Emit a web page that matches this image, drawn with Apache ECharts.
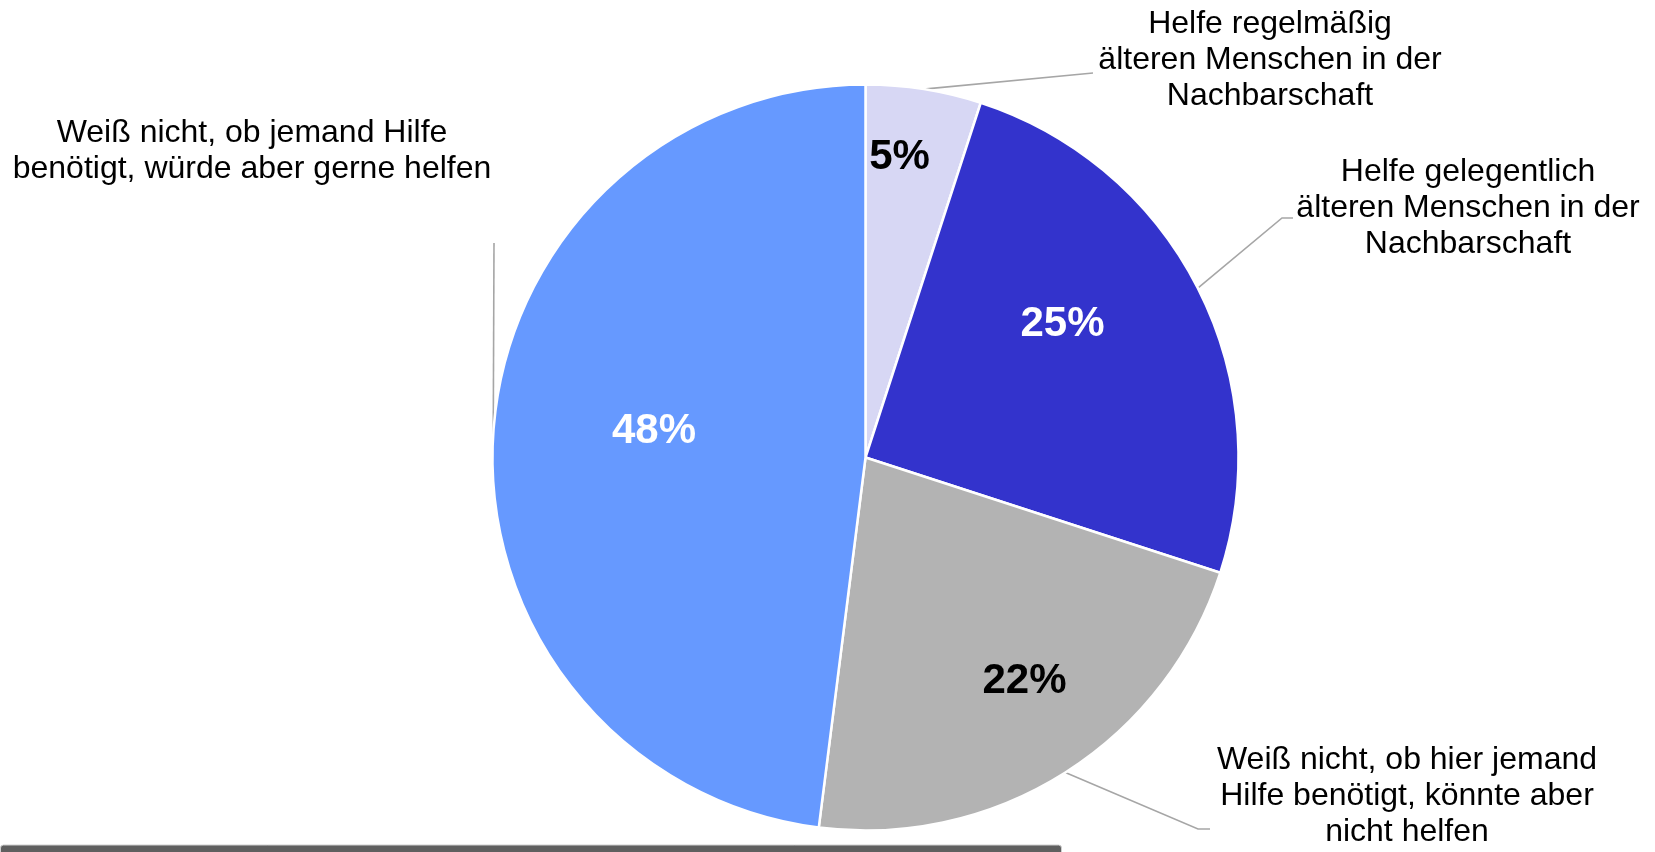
<!DOCTYPE html>
<html>
<head>
<meta charset="utf-8">
<script src="https://cdn.jsdelivr.net/npm/echarts@6/dist/echarts.min.js"></script>
<style>
  html, body { margin: 0; padding: 0; background: #ffffff; }
  #chart { width: 1655px; height: 852px; }
</style>
</head>
<body>
<div id="chart"></div>
<script>
// ---- data ----
const categories = [
  'Helfe regelmäßig\nälteren Menschen in der\nNachbarschaft',
  'Helfe gelegentlich\nälteren Menschen in der\nNachbarschaft',
  'Weiß nicht, ob hier jemand\nHilfe benötigt, könnte aber\nnicht helfen',
  'Weiß nicht, ob jemand Hilfe\nbenötigt, würde aber gerne helfen'
];
const values = [5, 25, 22, 48];

// ---- styles / layout (not data) ----
const sliceColors = ['#D7D7F4', '#3333CC', '#B3B3B3', '#6699FF'];
const innerLabelColors = ['#000000', '#FFFFFF', '#000000', '#FFFFFF'];
const FONT = 'Arial, "Liberation Sans", Helvetica, sans-serif';
const CENTER = [865.5, 457.5];
const RADIUS = 373;

// inner percentage label centres
const innerLabelPos = [
  [899.5, 157.5], [1062.5, 324.5], [1024.5, 681], [654, 431]
];
// outer category label centres + leader-line bend/end points
const outerLabelPos = [
  { x: 1270, y: 60.5, line: [[1093, 73]] },
  { x: 1468, y: 208.5, line: [[1282, 218], [1293, 218]] },
  { x: 1407, y: 796.5, line: [[1198, 829], [1210, 829]] },
  { x: 252,  y: 151.5, line: [[494, 243]] }
];

const pieData = categories.map((c, i) => ({
  name: c,
  value: values[i],
  itemStyle: { color: sliceColors[i] }
}));

const chart = echarts.init(document.getElementById('chart'), null, { renderer: 'canvas' });

chart.setOption({
  animation: false,
  backgroundColor: '#ffffff',
  series: [
    {
      type: 'pie',
      center: CENTER,
      radius: RADIUS,
      startAngle: 90,
      clockwise: true,
      avoidLabelOverlap: false,
      itemStyle: { borderColor: '#ffffff', borderWidth: 2.5 },
      label: {
        show: true,
        position: 'inside',
        formatter: p => p.value + '%',
        fontFamily: FONT,
        fontWeight: 'bold',
        fontSize: 42
      },
      labelLayout: function (params) {
        const pos = innerLabelPos[params.dataIndex];
        return { x: pos[0], y: pos[1], align: 'center', verticalAlign: 'middle' };
      },
      data: pieData.map((d, i) => Object.assign({}, d, {
        label: { color: innerLabelColors[i] }
      })),
      emphasis: { disabled: true },
      silent: true
    },
    {
      type: 'pie',
      center: CENTER,
      radius: RADIUS,
      startAngle: 90,
      clockwise: true,
      avoidLabelOverlap: false,
      itemStyle: { color: 'rgba(0,0,0,0)', borderWidth: 0 },
      label: {
        show: true,
        position: 'outside',
        formatter: p => p.name,
        fontFamily: FONT,
        fontSize: 32,
        lineHeight: 36,
        color: '#000000',
        align: 'center'
      },
      labelLine: {
        show: true,
        length: 20,
        length2: 20,
        lineStyle: { color: '#A6A6A6', width: 1.6 }
      },
      labelLayout: function (params) {
        const o = outerLabelPos[params.dataIndex];
        const start = (params.labelLinePoints && params.labelLinePoints[0])
          ? [params.labelLinePoints[0][0], params.labelLinePoints[0][1]]
          : CENTER;
        return {
          x: o.x, y: o.y, align: 'center', verticalAlign: 'middle',
          labelLinePoints: [start].concat(o.line)
        };
      },
      data: pieData.map(d => ({ name: d.name, value: d.value })),
      emphasis: { disabled: true },
      silent: true
    }
  ],
  graphic: [
    {
      type: 'rect',
      shape: { x: 0.5, y: 845, width: 1061, height: 20, r: 3 },
      style: { fill: '#5F5F5F', stroke: '#CFCFCF', lineWidth: 1 },
      silent: true
    }
  ]
});
</script>
</body>
</html>
